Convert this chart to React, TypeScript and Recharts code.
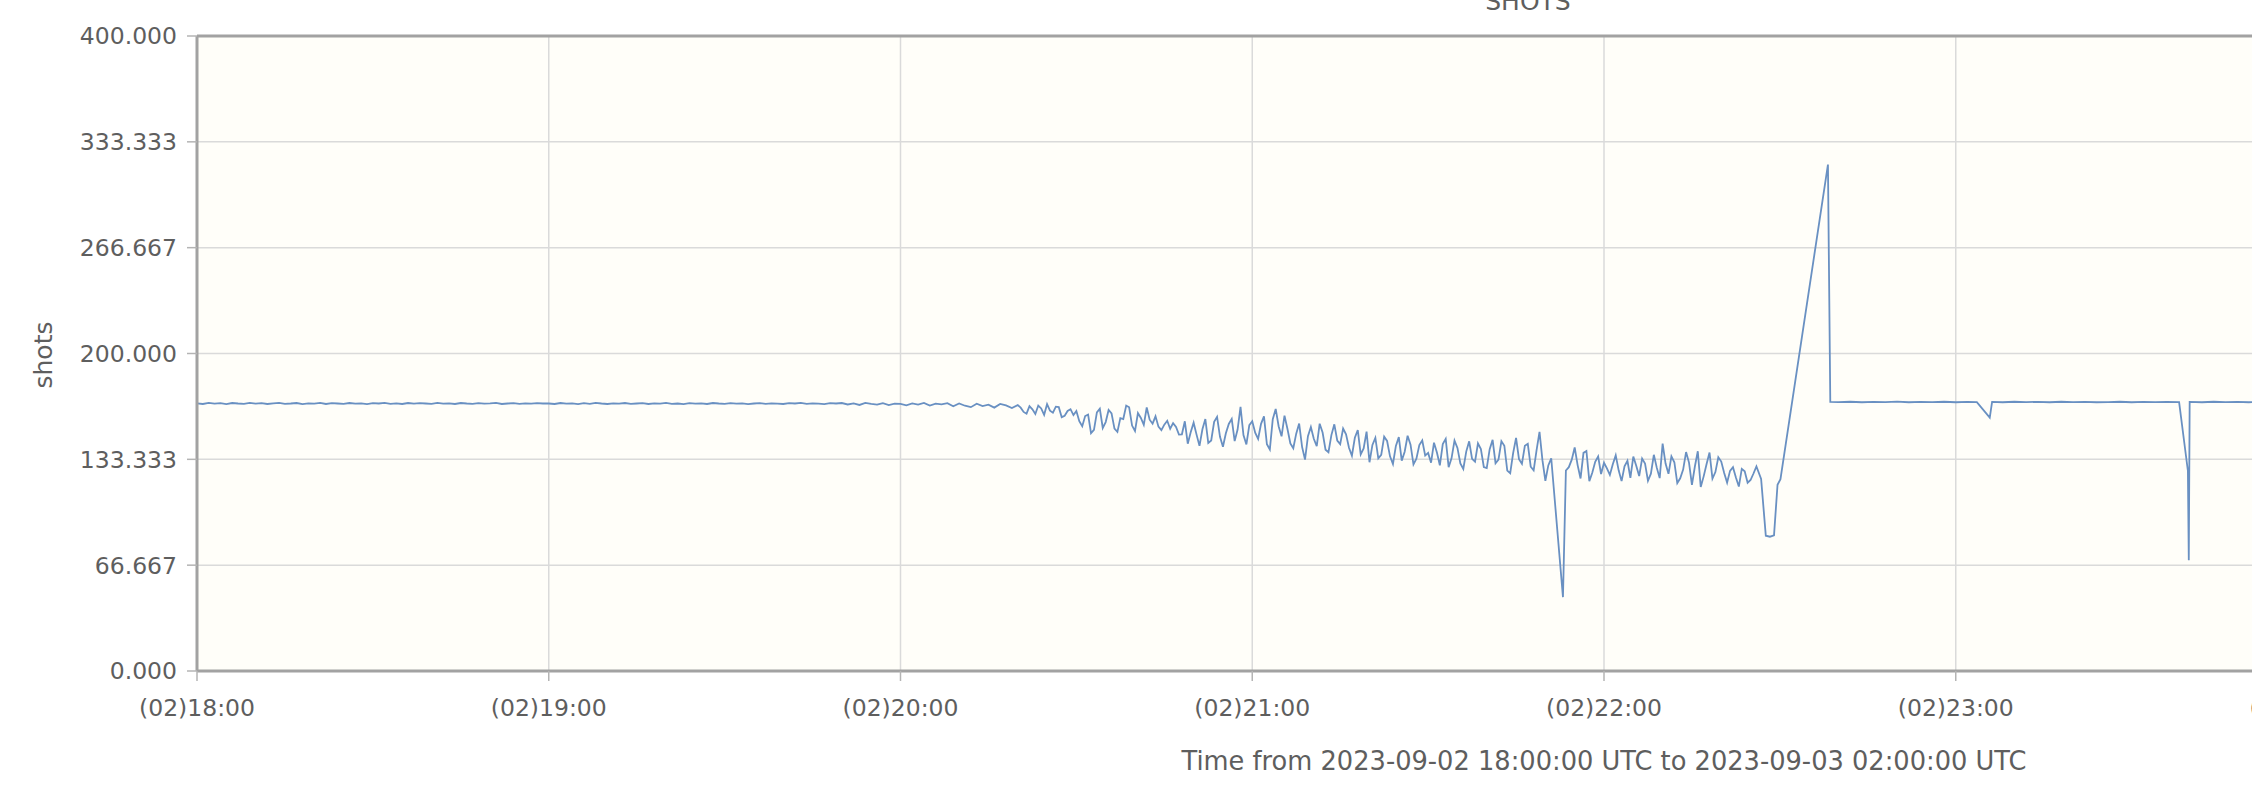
import React from 'react';
import {
  LineChart,
  Line,
  XAxis,
  YAxis,
  CartesianGrid,
  ReferenceLine
} from 'recharts';

const FONT = '"DejaVu Sans", Verdana, sans-serif';
const TEXT = '#5e5e5e';
const AXIS = '#a2a2a2';
const LINE = '#6990c2';

// minutes since (02)18:00
const xTicks = [0, 60, 120, 180, 240, 300, 360, 420, 480];
const xTickLabels = [
  '(02)18:00', '(02)19:00', '(02)20:00', '(02)21:00', '(02)22:00',
  '(02)23:00', '(03)00:00', '(03)01:00', '(03)02:00'
];
const yTicks = [0, 66.667, 133.333, 200, 266.667, 333.333, 400];

const title = 'SHOTS';
const yLabel = 'shots';
const xLabel = 'Time from 2023-09-02 18:00:00 UTC to 2023-09-03 02:00:00 UTC';

// one value per minute, on the minute
const hour18 = [
  168.6, 168.2, 168.9, 168.4, 168.7, 168.1, 168.8, 168.5, 168.3, 168.9,
  168.4, 168.7, 168.2, 168.6, 168.9, 168.3, 168.5, 168.8, 168.1, 168.6,
  168.4, 168.9, 168.2, 168.7, 168.5, 168.3, 168.8, 168.4, 168.6, 168.1,
  168.7, 168.5, 168.9, 168.3, 168.6, 168.2, 168.8, 168.4, 168.7, 168.5,
  168.3, 168.9, 168.4, 168.6, 168.2, 168.8, 168.5, 168.3, 168.7, 168.4,
  168.6, 168.9, 168.2, 168.5, 168.8, 168.3, 168.6, 168.4, 168.7, 168.5
];
const hour19 = [
  168.5, 168.2, 168.8, 168.4, 168.6, 168.1, 168.7, 168.3, 168.9, 168.5,
  168.2, 168.6, 168.4, 168.8, 168.3, 168.5, 168.7, 168.2, 168.6, 168.4,
  168.9, 168.3, 168.5, 168.1, 168.7, 168.4, 168.6, 168.2, 168.8, 168.5,
  168.3, 168.7, 168.4, 168.6, 168.1, 168.5, 168.8, 168.3, 168.6, 168.4,
  168.2, 168.7, 168.5, 168.9, 168.3, 168.6, 168.4, 168.1, 168.7, 168.5,
  168.8, 167.9, 168.6, 167.6, 168.9, 168.2, 167.8, 168.7, 167.5, 168.4
];
const hour20 = [
  168.3, 167.4, 168.6, 167.8, 168.9, 167.2, 168.4, 167.9, 168.7, 166.8,
  168.5, 167.1, 166.2, 168.4, 166.9, 167.8, 165.9, 168.2, 167.3, 165.6,
  167.5, 163.2, 166.8, 161.9, 165.4, 168.1, 162.7, 166.2, 160.8, 164.9,
  163.8, 154.2, 161.5, 151.9, 165.2, 156.8, 162.3, 150.6, 158.7, 166.1,
  151.2, 159.4, 166.0, 155.8, 153.9, 155.2, 152.6, 153.8, 149.1, 143.2,
  156.4, 141.8, 158.7, 145.2, 160.1, 141.3, 155.6, 144.8, 166.4, 142.7
];
const hour21 = [
  157.3, 146.2, 160.4, 139.5, 165.1, 147.8, 152.6, 140.3, 155.9, 133.2,
  153.7, 141.6, 150.2, 137.8, 155.4, 142.9, 149.1, 135.6, 151.8, 140.2,
  131.5, 146.8, 136.2, 144.9, 130.4, 147.3, 138.1, 142.6, 133.7, 145.2,
  137.4, 143.8, 129.6, 146.2, 134.1, 140.5, 127.3, 144.7, 131.9, 139.8,
  127.8, 145.6, 133.2, 141.9, 124.6, 146.8, 130.5, 143.1, 126.4, 150.6,
  119.8, 134.0, null, 46.5, 128.4, 140.8, 121.3, 138.6, 124.9, 135.2
];
// 22:00 .. 22:26
const hour22 = [
  131.2, 123.5, 135.8, 119.6, 132.4, 135.1, 122.8, 130.6, 124.3, 128.1,
  143.3, 124.2, 131.5, 121.4, 137.9, 117.2, 138.4, 122.6, 137.6, 125.3,
  131.9, 118.7, 128.4, 116.2, 125.8, 120.3, 128.9
];

// extra samples on the half minute in the noisy stretch
// 20:20:30 .. 20:59:30
const half20 = [
  165.9, 162.1, 164.8, 167.2, 161.4, 164.0, 166.5, 159.9, 163.8, 161.2,
  157.4, 160.6, 149.8, 162.9, 153.1, 164.4, 152.7, 159.3, 167.2, 154.6,
  162.5, 155.1, 158.3, 160.4, 151.7, 157.6, 156.1, 148.9, 157.3, 150.4,
  148.9, 152.3, 143.6, 156.9, 147.5, 149.8, 158.8, 152.1, 148.6, 154.9
];
// 21:00:30 .. 21:59:30
const half21 = [
  150.1, 155.7, 142.8, 158.6, 154.2, 160.9, 143.4, 149.5, 141.2, 147.9,
  146.3, 155.8, 139.4, 148.6, 145.2, 152.7, 140.6, 146.9, 136.4, 150.8,
  142.4, 133.9, 147.6, 135.2, 141.8, 132.5, 148.2, 130.1, 142.3, 135.7,
  131.2, 137.6, 142.9, 128.4, 145.1, 130.8, 138.2, 133.6, 143.4, 128.5,
  139.7, 130.9, 144.8, 126.2, 137.3, 133.4, 141.9, 128.7, 139.2, 132.8,
  129.5, null, null, 126.3, 133.1, 129.7, 137.4, 119.6, 131.8, 124.1
];
// 22:00:30 .. 22:25:30
const half22 = [
  127.6, 130.2, 126.4, 128.9, 121.7, 129.3, 133.8, 119.8, 136.2, 121.5,
  130.7, 135.2, 118.4, 126.9, 131.3, 128.8, 115.9, 130.4, 121.2, 134.6,
  124.7, 126.1, 121.9, 127.3, 118.6, 124.4
];

// irregular samples around the gap and the spike
const eventTimes = [266.8, 267.6, 268.3, 269.0, 269.6, 270.1, 278.2, 278.6];
const eventValues = [121.0, 85.2, 84.6, 85.4, 117.3, 120.8, 319.0, 169.5];

const tailTimes = [
  280, 282, 284, 286, 288, 290, 292, 294, 296, 298, 300, 302,
  303.6, 305.8, 306.2,
  308, 310, 312, 314, 316, 318, 320, 322, 324, 326, 328, 330, 332, 334, 336,
  338.1, 339.6, 339.75, 339.9,
  342, 344, 346, 348, 350,
  360, 370, 380, 390, 400, 410, 420, 430, 440, 450, 460, 470, 480
];
const tailValues = [
  169.4, 169.6, 169.3, 169.5, 169.4, 169.7, 169.3, 169.5, 169.4, 169.6, 169.3, 169.5,
  169.4, 159.6, 169.5,
  169.3, 169.6, 169.4, 169.5, 169.3, 169.6, 169.4, 169.5, 169.3, 169.4, 169.6, 169.3, 169.5, 169.4, 169.5,
  169.4, 126.0, 69.8, 169.5,
  169.3, 169.6, 169.4, 169.5, 169.3,
  169.5, 169.4, 169.6, 169.3, 169.5, 169.4, 169.5, 169.3, 169.6, 169.4, 169.5, 169.3, 169.5
];

const rows: { t: number; v: number }[] = [];
const pushBlock = (block: (number | null)[], start: number) =>
  block.forEach((v, i) => {
    if (v !== null) rows.push({ t: start + i, v });
  });
[hour18, hour19, hour20, hour21, hour22].forEach((block, h) => pushBlock(block, h * 60));
pushBlock(half20, 140.5);
pushBlock(half21, 180.5);
pushBlock(half22, 240.5);
eventTimes.forEach((t, i) => rows.push({ t, v: eventValues[i] }));
tailTimes.forEach((t, i) => rows.push({ t, v: tailValues[i] }));
rows.sort((a, b) => a.t - b.t);

export default function App() {
  return (
    <div
      style={{
        position: 'fixed',
        left: 0,
        top: 0,
        width: 2252,
        height: 802,
        overflow: 'hidden',
        background: '#ffffff',
        fontFamily: FONT
      }}
    >
      <LineChart
        width={3040}
        height={802}
        data={rows}
        margin={{ top: 36, right: 29, bottom: 0, left: 0 }}
      >
        <CartesianGrid fill="#fffef9" stroke="#dadada" strokeWidth={1.5} />
        <XAxis
          dataKey="t"
          type="number"
          domain={[0, 480]}
          ticks={xTicks}
          interval={0}
          tickFormatter={(t: number) => xTickLabels[xTicks.indexOf(t)]}
          height={131}
          tickSize={10}
          tickMargin={18}
          tick={{ fill: TEXT, fontSize: 23.5, fontFamily: FONT }}
          tickLine={{ stroke: '#b4b4b4', strokeWidth: 1.5 }}
          axisLine={{ stroke: AXIS, strokeWidth: 3 }}
          label={{
            value: xLabel,
            position: 'insideBottom',
            offset: 32,
            fill: TEXT,
            fontSize: 25.7,
            fontFamily: FONT
          }}
        />
        <YAxis
          type="number"
          domain={[0, 400]}
          ticks={yTicks}
          interval={0}
          tickFormatter={(v: number) => v.toFixed(3)}
          width={197}
          tickSize={10}
          tickMargin={10}
          tick={{ fill: TEXT, fontSize: 23.5, fontFamily: FONT }}
          tickLine={{ stroke: '#b4b4b4', strokeWidth: 1.5 }}
          axisLine={{ stroke: AXIS, strokeWidth: 3 }}
        />
        <ReferenceLine y={400} stroke={AXIS} strokeWidth={3} />
        <ReferenceLine x={480} stroke={AXIS} strokeWidth={3} />
        <Line
          type="linear"
          dataKey="v"
          stroke={LINE}
          strokeWidth={1.8}
          dot={false}
          activeDot={false}
          isAnimationActive={false}
        />
      </LineChart>
      <svg
        width={2252}
        height={802}
        style={{ position: 'absolute', left: 0, top: 0, pointerEvents: 'none' }}
      >
        <text x={1528} y={10} textAnchor="middle" fill={TEXT} fontSize={25} fontFamily={FONT}>
          {title}
        </text>
        <text
          x={52}
          y={355}
          textAnchor="middle"
          fill={TEXT}
          fontSize={25}
          fontFamily={FONT}
          transform="rotate(-90 52 355)"
        >
          {yLabel}
        </text>
      </svg>
    </div>
  );
}
